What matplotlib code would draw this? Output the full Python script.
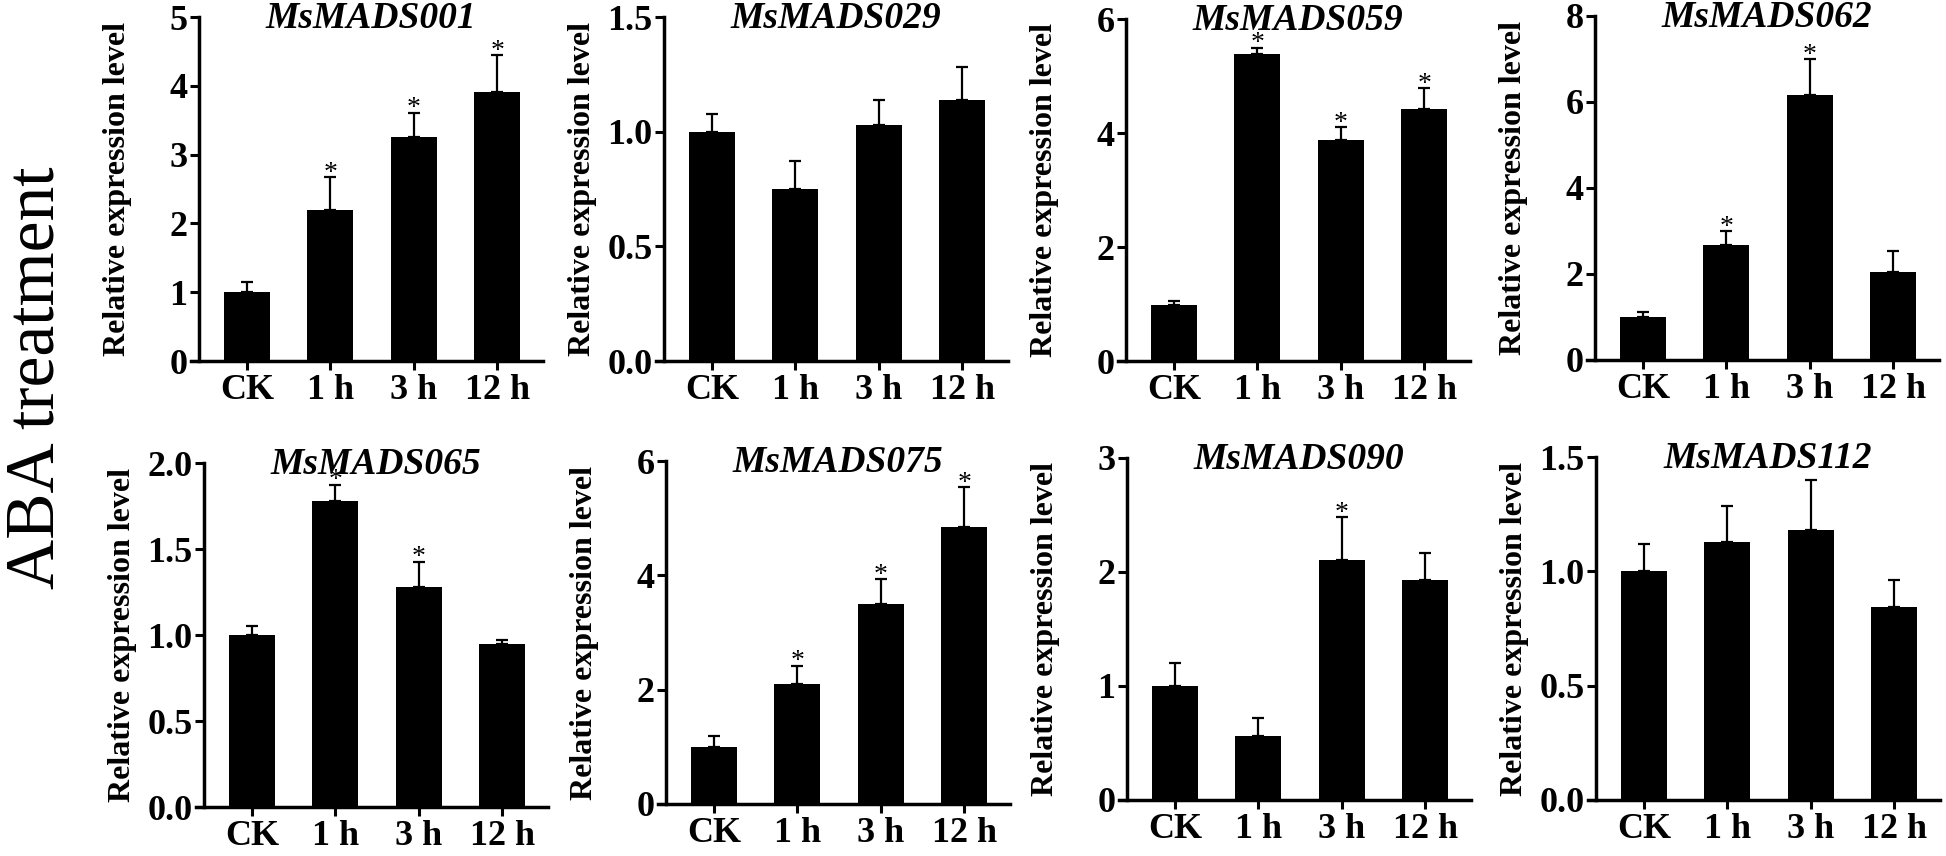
import matplotlib.pyplot as plt
import numpy as np

plt.rcParams["font.family"] = ["Liberation Serif", "DejaVu Serif"]

# time points
times = ["CK", "1 h", "3 h", "12 h"]

# relative expression (mean, upper error)
ms001_mean = [1.00, 2.20, 3.25, 3.91]
ms001_err = [0.15, 0.47, 0.36, 0.54]
ms001_sig = [False, True, True, True]

ms029_mean = [1.00, 0.75, 1.03, 1.14]
ms029_err = [0.075, 0.12, 0.11, 0.14]
ms029_sig = [False, False, False, False]

ms059_mean = [0.98, 5.38, 3.87, 4.42]
ms059_err = [0.08, 0.12, 0.23, 0.37]
ms059_sig = [False, True, True, True]

ms062_mean = [0.99, 2.67, 6.17, 2.05]
ms062_err = [0.13, 0.33, 0.82, 0.49]
ms062_sig = [False, True, True, False]

ms065_mean = [1.00, 1.78, 1.28, 0.95]
ms065_err = [0.05, 0.095, 0.147, 0.02]
ms065_sig = [False, True, True, False]

ms075_mean = [0.99, 2.10, 3.50, 4.85]
ms075_err = [0.20, 0.32, 0.44, 0.69]
ms075_sig = [False, True, True, True]

ms090_mean = [1.00, 0.565, 2.107, 1.93]
ms090_err = [0.20, 0.155, 0.375, 0.24]
ms090_sig = [False, False, True, False]

ms112_mean = [1.00, 1.127, 1.18, 0.842]
ms112_err = [0.12, 0.16, 0.22, 0.12]
ms112_sig = [False, False, False, False]

genes = ["MsMADS001", "MsMADS029", "MsMADS059", "MsMADS062",
         "MsMADS065", "MsMADS075", "MsMADS090", "MsMADS112"]
means = [ms001_mean, ms029_mean, ms059_mean, ms062_mean,
         ms065_mean, ms075_mean, ms090_mean, ms112_mean]
errs = [ms001_err, ms029_err, ms059_err, ms062_err,
        ms065_err, ms075_err, ms090_err, ms112_err]
sigs = [ms001_sig, ms029_sig, ms059_sig, ms062_sig,
        ms065_sig, ms075_sig, ms090_sig, ms112_sig]
y_max = [5, 1.5, 6, 8, 2.0, 6, 3, 1.5]
y_step = [1, 0.5, 2, 2, 0.5, 2, 1, 0.5]

# axes placement in pixels: left, top, bottom
W, H = 1946, 856
boxes = [(191, 17, 361), (656, 17, 361), (1118, 19, 361), (1587, 16, 360),
         (196, 463, 807), (658, 461, 804), (1119, 458, 800), (1588, 457, 800)]
ax_w = 352

fig = plt.figure(figsize=(W / 100, H / 100), dpi=100)

x = np.arange(len(times))
for i, gene in enumerate(genes):
    left, top, bottom = boxes[i]
    ax = fig.add_axes([left / W, 1 - bottom / H, ax_w / W, (bottom - top) / H])

    err = np.array(errs[i])
    ax.bar(x, means[i], width=0.55, color="black", zorder=2)
    ax.errorbar(x, means[i], yerr=[np.zeros_like(err), err], fmt="none",
                ecolor="black", elinewidth=1.6, capsize=4.5, capthick=1.6, zorder=1)

    for xi, m, e, s in zip(x, means[i], err, sigs[i]):
        if s:
            ax.annotate("*", (xi, m + e), xytext=(0, -2), textcoords="offset points",
                        ha="center", va="baseline", fontsize=20)

    ax.set_xlim(-0.67, 3.55)
    ax.set_ylim(0, y_max[i])
    ax.set_yticks(np.arange(0, y_max[i] + 1e-9, y_step[i]))
    if y_step[i] < 1:
        ax.set_yticklabels([f"{v:.1f}" for v in ax.get_yticks()])
    else:
        ax.set_yticklabels([f"{v:g}" for v in ax.get_yticks()])
    ax.set_xticks(x)
    ax.set_xticklabels(times)

    ax.spines["top"].set_visible(False)
    ax.spines["right"].set_visible(False)
    ax.spines["left"].set_position(("data", -0.57))
    for sp in ("left", "bottom"):
        ax.spines[sp].set_linewidth(2.5)
    ax.tick_params(width=2.2, length=6.5, labelsize=26, direction="out")
    ax.tick_params(axis="y", pad=2)
    ax.tick_params(axis="x", pad=3)
    for lab in ax.get_xticklabels() + ax.get_yticklabels():
        lab.set_fontweight("bold")

    ax.set_ylabel("Relative expression level", fontsize=23, fontweight="bold")
    ax.yaxis.set_label_coords(-59 / ax_w, 0.5)

    ax.annotate(gene, (0.51, 1), xycoords="axes fraction", xytext=(0, -8),
                textcoords="offset points", ha="center", va="baseline",
                fontsize=27, fontweight="bold", fontstyle="italic")

fig.text(37 / W, 1 - 378 / H, "ABA treatment", rotation=90, ha="center", va="center",
         fontsize=50)

fig.savefig("out.png", dpi=100)
